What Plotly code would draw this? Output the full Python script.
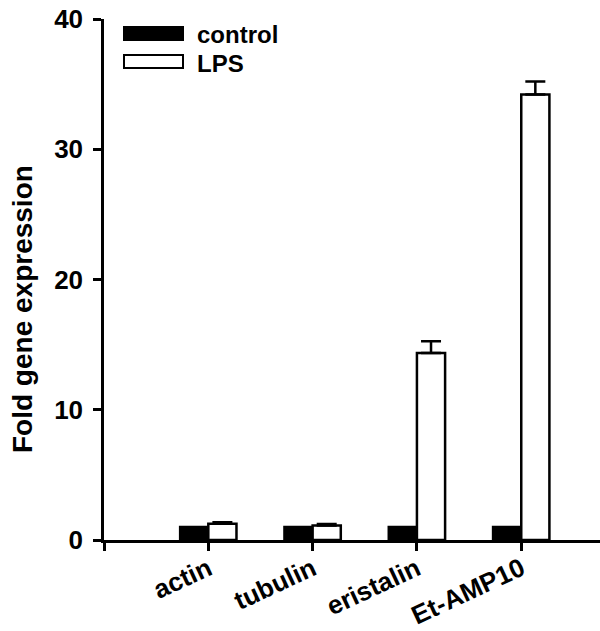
import plotly.graph_objects as go

genes = ["actin", "tubulin", "eristalin", "Et-AMP10"]
positions = [1, 2, 3, 4]
control_vals = [1.0, 1.0, 1.0, 1.0]
lps_vals = [1.25, 1.12, 14.35, 34.2]
lps_err = [0.12, 0.1, 0.9, 1.0]
y_ticks = [0, 10, 20, 30, 40]

FONT = "Liberation Sans, Arial, sans-serif"
L, T, W, H = 104, 19, 496, 521  # plot area in px

fig = go.Figure()
fig.add_trace(go.Bar(
    x=positions, y=control_vals, name="control",
    marker=dict(color="black", line=dict(color="black", width=2.5)),
))
fig.add_trace(go.Bar(
    x=positions, y=lps_vals, name="LPS",
    marker=dict(color="white", line=dict(color="black", width=2.5)),
    error_y=dict(type="data", symmetric=False, array=lps_err, arrayminus=[0]*4,
                 color="black", thickness=2.5, width=10),
))

fig.update_layout(
    width=600, height=631,
    margin=dict(l=L, r=0, t=T, b=631 - T - H),
    paper_bgcolor="white", plot_bgcolor="white",
    barmode="group", bargap=0.46, bargroupgap=0,
    showlegend=False,
    font=dict(family=FONT, color="black"),
    xaxis=dict(
        range=[0, 4.755], tickmode="array",
        tickvals=[0] + positions, ticktext=[""] + genes, automargin=False,
        tickangle=-25, ticks="outside", ticklen=8, tickwidth=2.5, tickcolor="black",
        ticklabelstandoff=-7,
        showline=True, linecolor="black", linewidth=2.5, showgrid=False, zeroline=False,
        tickfont=dict(family=FONT, size=26, color="black", weight="bold"),
    ),
    yaxis=dict(
        range=[0, 40], tickmode="array", tickvals=y_ticks, automargin=False,
        ticks="outside", ticklen=8, tickwidth=2.5, tickcolor="black",
        showline=True, linecolor="black", linewidth=2.5, showgrid=False, zeroline=False,
        ticklabelstandoff=5,
        tickfont=dict(family=FONT, size=26, color="black", weight="bold"),
    ),
)

def px(x):
    return (x - L) / W

def py(y):
    return (T + H - y) / H

# y-axis title as rotated annotation
fig.add_annotation(xref="paper", yref="paper", x=px(22), y=py(309),
                   text="Fold gene expression", textangle=-90, showarrow=False,
                   xanchor="center", yanchor="middle",
                   font=dict(family=FONT, size=28, color="black", weight="bold"))

# manual legend with wide rectangles
legend_items = [("control", "black", 33.5, 35), ("LPS", "white", 61.5, 63)]
for label, fill, yc, yt in legend_items:
    fig.add_shape(type="rect", xref="paper", yref="paper",
                  x0=px(124), x1=px(183), y0=py(yc + 6.5), y1=py(yc - 6.5),
                  fillcolor=fill, line=dict(color="black", width=2))
    fig.add_annotation(xref="paper", yref="paper", x=px(195), y=py(yt),
                       text=label, showarrow=False, xanchor="left", yanchor="middle",
                       font=dict(family=FONT, size=24, color="black", weight="bold"))

fig.write_html("out.html", config={"displayModeBar": False},
               post_script="document.body.style.margin='0';")
